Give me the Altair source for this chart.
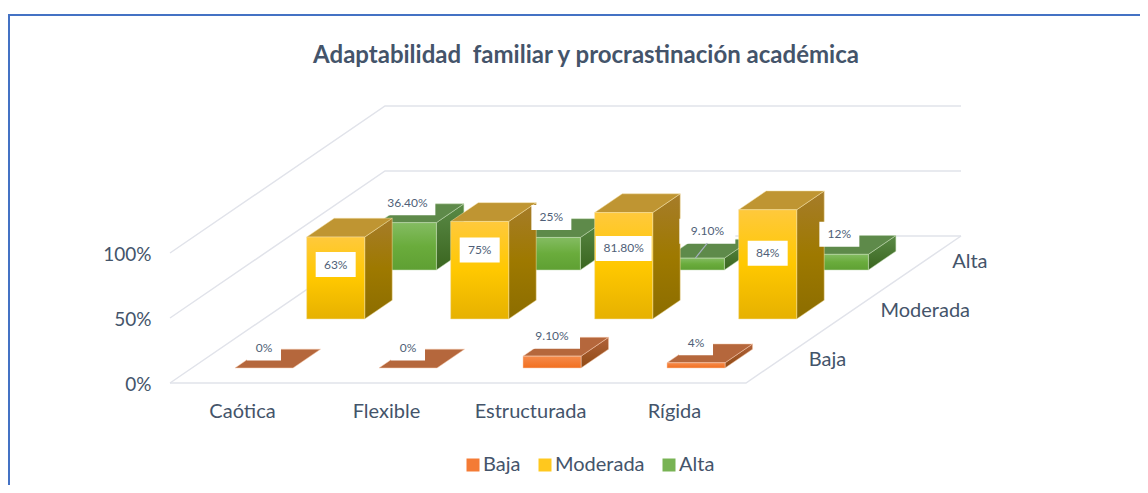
import json
import altair as alt
import pandas as pd

categories = ["Caótica", "Flexible", "Estructurada", "Rígida"]
series = ["Baja", "Moderada", "Alta"]
baja = [0.0, 0.0, 0.091, 0.04]
moderada = [0.63, 0.75, 0.818, 0.84]
alta = [0.364, 0.25, 0.091, 0.12]
label_text = {
    "Baja": ["0%", "0%", "9.10%", "4%"],
    "Moderada": ["63%", "75%", "81.80%", "84%"],
    "Alta": ["36.40%", "25%", "9.10%", "12%"],
}
value_ticks = [0, 0.5, 1]
# pixel-size of scales
PX_X = 144.0   # px per category
PX_Y = 130.0   # px per 100 %
DEPTH_DX = 71.67  # px per depth slot
DEPTH_DY = 49.0
ORIGIN_X, ORIGIN_Y = 170, 383
PLOT_W, PLOT_H = 970, 293
BAR_U, BAR_W = 0.2986, 0.403
BAR_V, BAR_D = 0.307, 0.384
FONT = "Lato"
AXIS_SIZE = 20
INK = "#44546A"
GRID = "#E1E3EA"

def px(cat, depth, val):
    return cat + depth * DEPTH_DX / PX_X, val + depth * DEPTH_DY / PX_Y

xs = alt.Scale(domain=[0, PLOT_W / PX_X], nice=False, zero=False)
ys = alt.Scale(domain=[0, PLOT_H / PX_Y], nice=False, zero=False)
x_label_expr = f"{json.dumps(categories, ensure_ascii=False)}[floor(datum.value)]"
x_axis = alt.Axis(
    values=[0.5, 1.5, 2.5, 3.5], labelExpr=x_label_expr, domain=False, ticks=False, grid=False,
    labelFont=FONT, labelFontSize=AXIS_SIZE, labelColor=INK, labelPadding=28, labelBaseline="middle",
    labelAngle=0, labelFlush=False, title=None)
y_axis = alt.Axis(
    values=value_ticks, format=".0%", domain=False, ticks=False, grid=False,
    labelFont=FONT, labelFontSize=19, labelColor=INK, labelPadding=19, labelOffset=1, title=None)
X = lambda f="x": alt.X(f, type="quantitative", scale=xs, axis=x_axis)
Y = lambda f="y": alt.Y(f, type="quantitative", scale=ys, axis=y_axis)
X2 = lambda f="x2": alt.X2(f)
Y2 = lambda f="y2": alt.Y2(f)

def grad(*stops, x2=0, y2=1):
    n = len(stops) - 1
    return {"gradient": "linear", "x1": 0, "y1": 0, "x2": x2, "y2": y2,
            "stops": [{"offset": i / n, "color": c} for i, c in enumerate(stops)]}

STYLE = {
    "Baja": dict(front=grad("#F58B4C", "#F26F1F"), top="#B5673C",
                 side=grad("#B0623A", "#8F4A14"), edge="#F8CDB0"),
    "Moderada": dict(front=grad("#FFC93C", "#FFC800", "#E6B100"), top="#BF9532",
                     side=grad("#A67C2A", "#9E7900", "#8C6D00"), edge="#F5E0A5"),
    "Alta": dict(front=grad("#84BC62", "#6AAC3C", "#5FA033"), top="#5E8A4A",
                 side=grad("#5A8A46", "#3A651F"), edge="#C5DDB5"),
}
VALUES = {"Baja": baja, "Moderada": moderada, "Alta": alta}

# ---- walls and floor
grid_rows = []
def add_line(gid, pts):
    for i, (c, d, v) in enumerate(pts):
        x, y = px(c, d, v)
        grid_rows.append({"g": gid, "i": i, "x": x, "y": y})
for t in value_ticks:
    add_line(f"w{t}", [(0, 0, t), (0, 3, t), (4, 3, t)])
add_line("front", [(0, 0, 0), (4, 0, 0), (4, 3, 0)])
grid_df = pd.DataFrame(grid_rows)

base = alt.Chart(grid_df).mark_line(color=GRID, strokeWidth=1.5).encode(
    x=X(), y=Y(), detail="g:N", order="i:Q",
)
layers = [base]

# ---- blue frame
frame_top = (15 - ORIGIN_Y) / -PX_Y
frame_df = pd.DataFrame({
    "x": [(9 - ORIGIN_X) / PX_X, (9 - ORIGIN_X) / PX_X, PLOT_W / PX_X],
    "y": [(ORIGIN_Y - 485) / PX_Y, frame_top, frame_top],
    "i": [0, 1, 2],
})
layers.append(alt.Chart(frame_df).mark_line(color="#4472C4", strokeWidth=2, clip=False).encode(
    x=X(), y=Y(), order="i:Q"))

# ---- bars, back to front
for s in reversed(series):
    d = series.index(s)
    st = STYLE[s]
    fr, tp, sd = [], [], []
    for c, v in enumerate(VALUES[s]):
        u0, u1 = c + BAR_U, c + BAR_U + BAR_W
        v0, v1 = d + BAR_V, d + BAR_V + BAR_D
        fx0, fy0 = px(u0, v0, 0)
        fx1, fy1 = px(u1, v0, v)
        fr.append({"x": fx0, "x2": fx1, "y": fy0, "y2": fy1})
        bx0, by1 = px(u0, v1, v)
        bx1, by0 = px(u1, v1, 0)
        tp.append({"id": c, "y": fy1, "x": fx0, "x2": fx1})
        tp.append({"id": c, "y": by1, "x": bx0, "x2": bx1})
        sd.append({"id": c, "x": fx1, "y": fy1, "y2": fy0})
        sd.append({"id": c, "x": bx1, "y": by1, "y2": by0})
    df_fr = pd.DataFrame(fr)
    df_fr = df_fr[df_fr.y2 > df_fr.y]
    df_sd = pd.DataFrame(sd)
    df_sd = df_sd[df_sd.y2 < df_sd.y]
    layers.append(alt.Chart(df_sd).mark_area(color=st["side"], orient="vertical", stroke=st["edge"], strokeWidth=0.5).encode(
        x=X(), y=Y(), y2=Y2(), detail="id:N"))
    layers.append(alt.Chart(pd.DataFrame(tp)).mark_area(color=st["top"], orient="horizontal", stroke=st["edge"], strokeWidth=0.5).encode(
        y=Y(), x=X(), x2=X2(), detail="id:N"))
    layers.append(alt.Chart(df_fr).mark_rect(color=st["front"], stroke=st["edge"], strokeWidth=0.5).encode(
        x=X(), x2=X2(), y=Y(), y2=Y2()))

# ---- data labels: offset in px from the centre-top of the bar's front face
MOD_DY = [27.5, 28.5, 35.8, 43.5]
lab = []
for s in series:
    d = series.index(s)
    for c, v in enumerate(VALUES[s]):
        cx, cy = px(c + BAR_U + BAR_W / 2, d + BAR_V, v)
        dx_px, dy_px = 0, 20
        if s == "Moderada":
            dy_px = -MOD_DY[c]
        if s == "Alta" and c == 2:
            dx_px, dy_px = 12, 27
        t = label_text[s][c]
        w = 56 if len(t) > 4 else (40 if len(t) == 3 else 34)
        lx, ly = cx + dx_px / PX_X, cy + dy_px / PX_Y
        lab.append({"t": t, "x": lx, "y": ly, "x0": lx - w / 2 / PX_X, "x1": lx + w / 2 / PX_X,
                    "y0": ly - 12.5 / PX_Y, "y1": ly + 12.5 / PX_Y})
lab_df = pd.DataFrame(lab)
# leader for the moved label
cx, cy = px(2 + BAR_U + BAR_W / 2, 2 + BAR_V, alta[2])
leader_df = pd.DataFrame({"x": [cx, cx + 12 / PX_X], "y": [cy, cy + 15 / PX_Y], "i": [0, 1]})
layers.append(alt.Chart(lab_df).mark_rect(color="white").encode(
    x=X("x0"), x2=X2("x1"), y=Y("y0"), y2=Y2("y1")))
layers.append(alt.Chart(leader_df).mark_line(color="#A6B0BF", strokeWidth=1.2).encode(
    x=X(), y=Y(), order="i:Q"))
layers.append(alt.Chart(lab_df).mark_text(font=FONT, fontSize=12, color="#505F78", baseline="middle").encode(
    x=X(), y=Y(), text="t:N"))

# ---- depth axis labels
depth_rows = []
for i, s in enumerate(series):
    x, y = px(4, i + 0.5, 0)
    depth_rows.append({"t": s, "x": x, "y": y})
layers.append(alt.Chart(pd.DataFrame(depth_rows)).mark_text(
    font=FONT, fontSize=AXIS_SIZE, color=INK, align="left", baseline="middle", dx=27, dy=1.5).encode(
    x=X(), y=Y(), text="t:N"))

# ---- legend
legend_df = pd.DataFrame({"s": series})
layers.append(alt.Chart(legend_df).mark_square(size=0, filled=True).encode(
    x=alt.value(-50), y=alt.value(-50),
    color=alt.Color("s:N", title=None, scale=alt.Scale(domain=series, range=["#F47B35", "#FFC81E", "#78B354"]),
                    legend=alt.Legend(orient="none", legendX=293, legendY=365, direction="horizontal",
                                      symbolType="square", symbolSize=169, symbolOpacity=1,
                                      labelFont=FONT, labelFontSize=AXIS_SIZE, labelColor=INK,
                                      columnPadding=14, labelOffset=0, symbolStrokeWidth=0)),
))

chart = alt.layer(*layers).properties(
    width=PLOT_W, height=PLOT_H,
    padding={"left": 162, "top": 82, "right": 0, "bottom": 102},
    autosize=alt.AutoSizeParams(type="none"),
    background="white",
    title=alt.TitleParams("Adaptabilidad\u00a0 familiar y procrastinación académica",
                          font=FONT, fontSize=24, fontWeight="bold", color=INK,
                          anchor="middle", frame="group", dx=-69, offset=0, dy=57),
).configure_view(stroke=None)

chart.save("out.html", embed_options={"renderer": "svg", "actions": False})
